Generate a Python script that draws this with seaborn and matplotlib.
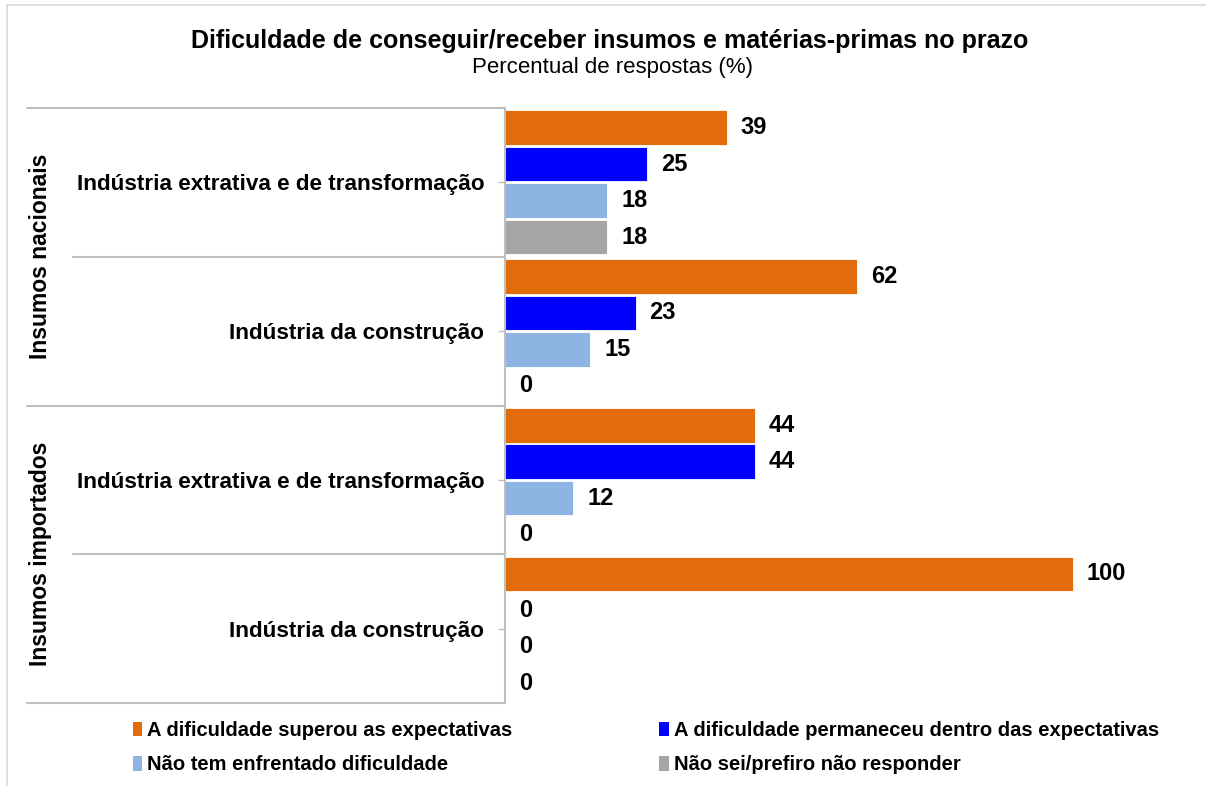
import matplotlib
matplotlib.use("Agg")
import matplotlib.pyplot as plt
import seaborn as sns
import pandas as pd
from matplotlib.patches import Patch, Rectangle
from matplotlib.lines import Line2D
from matplotlib.transforms import blended_transform_factory

# ---- data ----
groups = ["Insumos nacionais", "Insumos nacionais", "Insumos importados", "Insumos importados"]
categories = ["Indústria extrativa e de transformação", "Indústria da construção",
              "Indústria extrativa e de transformação", "Indústria da construção"]
series = ["A dificuldade superou as expectativas",
          "A dificuldade permaneceu dentro das expectativas",
          "Não tem enfrentado dificuldade",
          "Não sei/prefiro não responder"]
superou = [39, 62, 44, 100]
permaneceu = [25, 23, 44, 0]
nao_enfrentado = [18, 15, 12, 0]
nao_sei = [18, 0, 0, 0]
colors = ["#E36C0A", "#0000FF", "#8EB4E3", "#A5A5A5"]

values = [superou, permaneceu, nao_enfrentado, nao_sei]
keys = [f"{g}|{c}" for g, c in zip(groups, categories)]
rows = []
for s, vals in zip(series, values):
    for k, v in zip(keys, vals):
        rows.append({"cat": k, "serie": s, "valor": v})
df = pd.DataFrame(rows)

sns.set_theme(style="white")
plt.rcParams["font.family"] = ["Liberation Sans", "DejaVu Sans"]
plt.rcParams["text.color"] = "black"

W, H = 1206, 786
fig = plt.figure(figsize=(W / 100, H / 100), dpi=100)
ax_left, ax_right = 505 / W, 1135 / W
ax_bottom, ax_top = 1 - 703 / H, 1 - 108 / H
ax = fig.add_axes([ax_left, ax_bottom, ax_right - ax_left, ax_top - ax_bottom])

sns.barplot(data=df, y="cat", x="valor", hue="serie", order=keys, hue_order=series,
            palette=colors, saturation=1, orient="h", width=0.98, gap=0.05, ax=ax,
            edgecolor="white", linewidth=0.6, legend=False)

ax.set_xlim(0, 110.9)
ax.set_ylim(3.5, -0.5)
ax.set_xlabel("")
ax.set_ylabel("")
ax.set_xticks([])
ax.set_yticks(range(len(keys)))
ax.set_yticklabels(categories, fontsize=16.2, fontweight="bold", color="black")
ax.tick_params(axis="y", length=5, width=1, color="#BFBFBF", pad=10, left=True)
for sp in ["top", "right", "bottom"]:
    ax.spines[sp].set_visible(False)
ax.spines["left"].set_color("#BFBFBF")
ax.spines["left"].set_linewidth(1.5)

for cont in ax.containers:
    ax.bar_label(cont, fmt="%d", padding=10, fontsize=17, fontweight="bold", color="black")

# separator lines
tr = blended_transform_factory(fig.transFigure, ax.transData)
for y in [-0.5, 1.5, 3.5]:
    fig.add_artist(Line2D([27 / W, 504 / W], [y, y], transform=tr, color="#BFBFBF", lw=1.5))
for y in [0.5, 2.5]:
    fig.add_artist(Line2D([73 / W, 504 / W], [y, y], transform=tr, color="#BFBFBF", lw=1.5))

# group labels
for y, g in [(0.5, "Insumos nacionais"), (2.5, "Insumos importados")]:
    fig.text(41 / W, y, g, rotation=90, ha="center", va="center", fontsize=16.5,
             fontweight="bold", transform=tr)

# chart-area border (cropped)
fig.add_artist(Rectangle((7 / W, -0.05), 1.1, 1 - 5 / H + 0.05, transform=fig.transFigure,
                         fill=False, edgecolor="#D9D9D9", lw=1.2))

# titles
fig.text(0.5 * (192 + 1028) / W, 1 - 41 / H, "Dificuldade de conseguir/receber insumos e matérias-primas no prazo",
         ha="center", va="center", fontsize=18, fontweight="bold")
fig.text(0.5 * (473 + 752) / W, 1 - 68 / H, "Percentual de respostas (%)",
         ha="center", va="center", fontsize=16)

# legend (row-major order in 2 columns)
order = [0, 2, 1, 3]
handles = [Patch(facecolor=colors[i], edgecolor="none") for i in order]
labels = [series[i] for i in order]
leg = fig.legend(handles, labels, ncol=2, loc="upper left",
                 bbox_to_anchor=(115 / W, 1 - 703 / H), frameon=False,
                 prop={"size": 14.5, "weight": "bold"}, handlelength=0.45, handleheight=0.75,
                 handletextpad=0.25, columnspacing=7.3, labelspacing=0.75)

fig.savefig("out.png", dpi=100, facecolor="white")
